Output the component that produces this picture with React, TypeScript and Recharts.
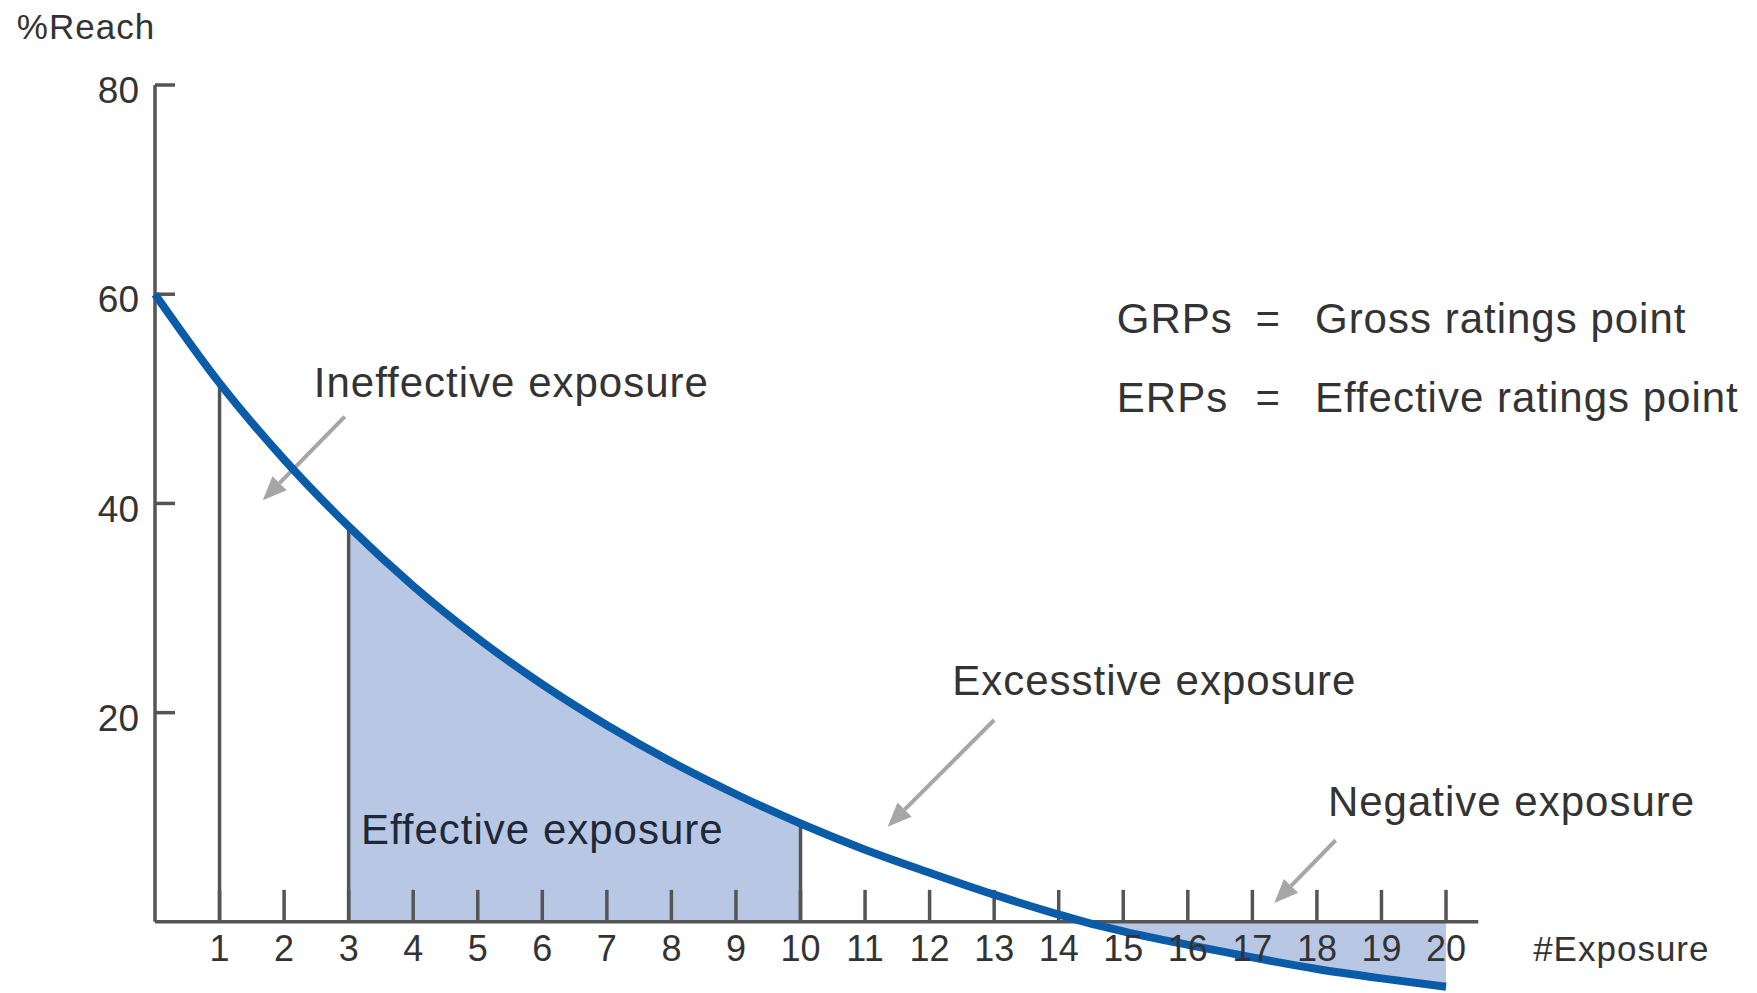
import { ComposedChart, Line, Area, XAxis, YAxis, ReferenceLine, ReferenceDot } from "recharts";

// exposure frequency (x) and % reach; 14.4 is where it crosses zero
const exposure = [0, 1, 2, 3, 4, 5, 6, 7, 8, 9, 10, 11, 12, 13, 14, 14.4, 15, 16, 17, 18, 19, 20];
const reach = [60, 51.5, 44.2, 37.8, 32.1, 27.1, 22.7, 18.8, 15.3, 12.2, 9.4, 6.9, 4.7, 2.6, 0.7, 0, -0.9, -2.2, -3.4, -4.5, -5.4, -6.2];

const xTicks = [1, 2, 3, 4, 5, 6, 7, 8, 9, 10, 11, 12, 13, 14, 15, 16, 17, 18, 19, 20];
const yTicks = [20, 40, 60, 80];
const dividers = [1, 3, 10];
const effectiveRange = [3, 10];
const negativeStart = 14.4;

const notes = [
  { text: "%Reach", x: -2.14, y: 85.6, small: true },
  { text: "Ineffective exposure", x: 2.46, y: 51.6 },
  { text: "GRPs", x: 14.9, y: 57.7 },
  { text: "=", x: 17.05, y: 57.7 },
  { text: "Gross ratings point", x: 17.97, y: 57.7 },
  { text: "ERPs", x: 14.9, y: 50.2 },
  { text: "=", x: 17.05, y: 50.2 },
  { text: "Effective ratings point", x: 17.97, y: 50.2 },
  { text: "Excesstive exposure", x: 12.35, y: 23.1 },
  { text: "Effective exposure", x: 3.19, y: 8.9, dark: true },
  { text: "Negative exposure", x: 18.17, y: 11.5 },
  { text: "#Exposure", x: 21.35, y: -2.6, small: true },
];

const arrows = [
  { from: [2.94, 48.3], to: [1.67, 40.3] },
  { from: [13.0, 19.3], to: [11.35, 9.1] },
  { from: [18.29, 7.8], to: [17.34, 1.8] },
];

const rows = exposure.map((x, i) => ({
  x,
  reach: reach[i],
  effective: x >= effectiveRange[0] && x <= effectiveRange[1] ? reach[i] : null,
  negative: x >= negativeStart ? reach[i] : null,
}));

const FONT = '"Liberation Sans", Arial, sans-serif';
const AXIS = "#555555";
const TEXT = "#333333";
const SHADE = "#b8c8e4";
const CURVE = "#0b5ca8";
const X_TICK_LEN = 3.06; // in data units (~32px)
const Y_TICK_LEN = 0.31; // in data units (~20px)

function ArrowShape(props: any) {
  const { x1, y1, x2, y2 } = props;
  const dx = x2 - x1;
  const dy = y2 - y1;
  const len = Math.hypot(dx, dy) || 1;
  const ux = dx / len;
  const uy = dy / len;
  const head = 24;
  const half = 10;
  const bx = x2 - ux * head;
  const by = y2 - uy * head;
  return (
    <g>
      <line x1={x1} y1={y1} x2={bx} y2={by} stroke="#a6a6a6" strokeWidth={4} />
      <polygon
        points={`${x2},${y2} ${bx - uy * half},${by + ux * half} ${bx + uy * half},${by - ux * half}`}
        fill="#a6a6a6"
      />
    </g>
  );
}

export default function App() {
  return (
    <div style={{ position: "fixed", left: 0, top: 0, width: 1757, height: 993, background: "#fff" }}>
      <ComposedChart width={1757} height={993} data={rows} margin={{ top: 85, right: 20.5, bottom: 0, left: 95 }}>
        <XAxis type="number" dataKey="x" domain={[0, 24.5]} hide />
        <YAxis
          type="number"
          domain={[-6.8, 80]}
          ticks={yTicks}
          interval={0}
          width={60}
          tickLine={false}
          axisLine={false}
          tickSize={0}
          tickMargin={16}
          tick={{ fontSize: 37, fill: TEXT, fontFamily: FONT, dy: 5 }}
        />

        <Area dataKey="effective" type="monotone" stroke="none" fill={SHADE} fillOpacity={1} baseValue={0} isAnimationActive={false} />
        <Area dataKey="negative" type="monotone" stroke="none" fill={SHADE} fillOpacity={1} baseValue={0} isAnimationActive={false} />

        {/* axes drawn as segments so they meet at 0 */}
        <ReferenceLine segment={[{ x: 0, y: 0 }, { x: 0, y: 80 }]} stroke={AXIS} strokeWidth={3.5} />
        <ReferenceLine segment={[{ x: 0, y: 0 }, { x: 20.5, y: 0 }]} stroke={AXIS} strokeWidth={3.5} />
        {yTicks.map((t) => (
          <ReferenceLine key={`y${t}`} segment={[{ x: 0, y: t }, { x: Y_TICK_LEN, y: t }]} stroke={AXIS} strokeWidth={3.5} />
        ))}
        {xTicks.map((t) => (
          <ReferenceLine
            key={`x${t}`}
            segment={[{ x: t, y: 0 }, { x: t, y: X_TICK_LEN }]}
            stroke={AXIS}
            strokeWidth={3.5}
            label={{ value: String(t), position: "bottom", offset: 14, fontSize: 36, fill: TEXT, fontFamily: FONT }}
          />
        ))}
        {dividers.map((d) => (
          <ReferenceLine
            key={`d${d}`}
            segment={[{ x: d, y: 0 }, { x: d, y: reach[exposure.indexOf(d)] }]}
            stroke={AXIS}
            strokeWidth={3.5}
          />
        ))}

        {arrows.map((a, i) => (
          <ReferenceLine
            key={`a${i}`}
            segment={[{ x: a.from[0], y: a.from[1] }, { x: a.to[0], y: a.to[1] }]}
            shape={ArrowShape}
          />
        ))}

        <Line dataKey="reach" type="monotone" stroke={CURVE} strokeWidth={8} dot={false} activeDot={false} isAnimationActive={false} />

        {notes.map((n, i) => (
          <ReferenceDot
            key={`n${i}`}
            x={n.x}
            y={n.y}
            r={0}
            fill="none"
            stroke="none"
            ifOverflow="visible"
            label={{
              value: n.text,
              position: "right",
              offset: 0,
              fontSize: n.small ? 35 : 42,
              letterSpacing: 1,
              fill: n.dark ? "#1f2838" : TEXT,
              fontFamily: FONT,
            }}
          />
        ))}
      </ComposedChart>
    </div>
  );
}
